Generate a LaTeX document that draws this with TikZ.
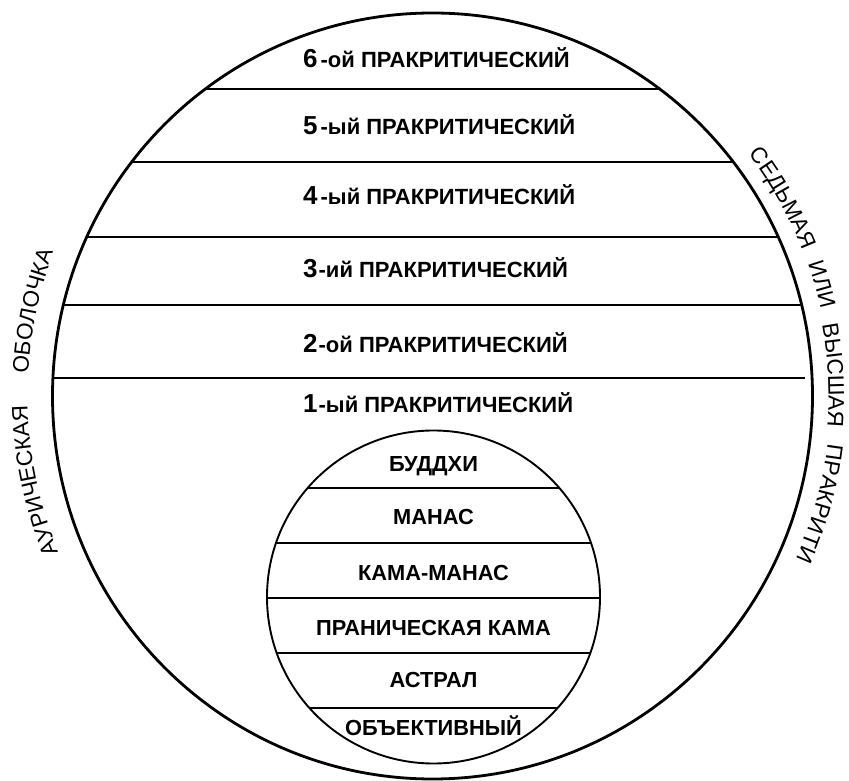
\documentclass[tikz,border=0pt]{standalone}
\usepackage{fontspec}
\setmainfont{Liberation Sans}
\usetikzlibrary{decorations.text,calc}
\newcommand\sidefont{\fontsize{22.5}{23}\selectfont}
\newcommand\bignum[1]{{\fontsize{26}{26}\selectfont #1}}
\begin{document}
\begin{tikzpicture}[x=1pt,y=1pt,
  outerline/.style={line width=2.6pt},
  innerline/.style={line width=2.2pt},
  lvl/.style={anchor=base west, inner sep=0pt, font=\fontsize{22}{22}\selectfont\bfseries},
  sub/.style={anchor=base, inner sep=0pt, font=\fontsize{21.8}{22}\selectfont\bfseries},
  sidetext/.style={decorate, decoration={text along path, text align=center, text={|\sidefont|#1}}}]
\useasboundingbox (0,0) rectangle (849,780);
\fill[white] (0,0) rectangle (849,780);
\coordinate (C) at (432.5,384);
\coordinate (c) at (433.5,183);
% outer layers
\begin{scope}
  \clip (C) ellipse [x radius=380, y radius=383];
  \foreach \yy in {691,618,543,475} \draw[outerline] (0,\yy) -- (849,\yy);
  \draw[outerline] (0,402) -- (805,402);
\end{scope}
\draw[line width=2.8pt] (C) ellipse [x radius=380, y radius=383];
% inner sphere
\begin{scope}
  \clip (c) circle [radius=166.5];
  \foreach \yy in {292,237,182,127,72} \draw[innerline] (200,\yy) -- (700,\yy);
\end{scope}
\draw[line width=1.9pt] (c) circle [radius=166.5];
% outer labels
\node[lvl] (p6) at (303,712) {\bignum{6}\kern3pt-ой ПРАКРИТИЧЕСКИЙ};
\node[lvl] (p5) at (303,645) {\bignum{5}\kern3pt-ый ПРАКРИТИЧЕСКИЙ};
\node[lvl] (p4) at (303,575) {\bignum{4}\kern3pt-ый ПРАКРИТИЧЕСКИЙ};
\node[lvl] (p3) at (303,502) {\bignum{3}\kern1pt-ий ПРАКРИТИЧЕСКИЙ};
\node[lvl] (p2) at (303,427) {\bignum{2}\kern1pt-ой ПРАКРИТИЧЕСКИЙ};
\node[lvl] (p1) at (303,367) {\bignum{1}\kern1pt-ый ПРАКРИТИЧЕСКИЙ};
% inner labels
\node[sub] (i1) at (433.5,308) {БУДДХИ};
\node[sub] (i2) at (433.5,255) {МАНАС};
\node[sub] (i3) at (433.5,200) {КАМА-МАНАС};
\node[sub] (i4) at (433.5,145) {ПРАНИЧЕСКАЯ КАМА};
\node[sub] (i5) at (433.5,93) {АСТРАЛ};
\node[sub] (i6) at (433.5,45) {ОБЪЕКТИВНЫЙ};
% side texts
\path[sidetext=АУРИЧЕСКАЯ] ($(C)+(202.7:405)$) arc[start angle=202.7, end angle=181.3, radius=405];
\path[sidetext=ОБОЛОЧКА] ($(C)+(176.7:405)$) arc[start angle=176.7, end angle=159.3, radius=405];
\path[sidetext=СЕДЬМАЯ] ($(C)+(36.8:398)$) arc[start angle=36.8, end angle=22.1, radius=398];
\path[sidetext=ИЛИ] ($(C)+(19.2:398)$) arc[start angle=19.2, end angle=12.8, radius=398];
\path[sidetext=ВЫСШАЯ] ($(C)+(10.5:396)$) arc[start angle=10.5, end angle=-4.6, radius=396];
\path[sidetext=ПРАКРИТИ] ($(C)+(-6.8:398)$) arc[start angle=-6.8, end angle=-24.2, radius=398];
\end{tikzpicture}
\end{document}
